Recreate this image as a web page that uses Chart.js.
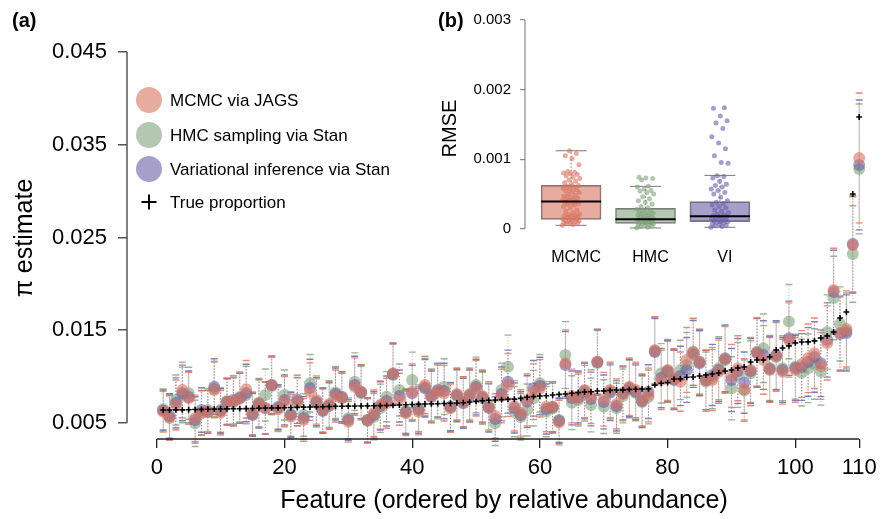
<!DOCTYPE html>
<html><head><meta charset="utf-8">
<script src="https://cdn.jsdelivr.net/npm/chart.js@4/dist/chart.umd.min.js"></script>
<style>
html,body{margin:0;padding:0;background:#fff;}
#wrap{position:relative;width:887px;height:519px;overflow:hidden;}
#main{position:absolute;left:0;top:0;}
#inset{position:absolute;left:420px;top:0;}
</style></head><body>
<div id="wrap">
<canvas id="main" width="887" height="519"></canvas>
<canvas id="inset" width="350" height="265"></canvas>
</div>
<script>
// ---------------- DATA ----------------
const features = Array.from({length: 110}, (_, i) => i + 1);
const methodLabels = ['MCMC via JAGS', 'HMC sampling via Stan', 'Variational inference via Stan'];
const trueLabel = 'True proportion';
const xTickValues = [0, 20, 40, 60, 80, 100, 110];
const yTickValues = [0.005, 0.015, 0.025, 0.035, 0.045];

const trueProp = [
0.00640,0.00640,0.00641,0.00642,0.00643,0.00645,0.00647,0.00649,0.00650,0.00651,
0.00652,0.00653,0.00654,0.00655,0.00657,0.00659,0.00661,0.00662,0.00663,0.00665,
0.00667,0.00669,0.00671,0.00672,0.00674,0.00676,0.00678,0.00680,0.00681,0.00682,
0.00683,0.00684,0.00685,0.00686,0.00687,0.00689,0.00691,0.00694,0.00697,0.00700,
0.00703,0.00705,0.00706,0.00708,0.00711,0.00713,0.00716,0.00719,0.00726,0.00733,
0.00740,0.00745,0.00748,0.00752,0.00755,0.00757,0.00766,0.00777,0.00784,0.00791,
0.00793,0.00802,0.00809,0.00813,0.00820,0.00827,0.00834,0.00837,0.00845,0.00846,
0.00852,0.00856,0.00857,0.00863,0.00864,0.00867,0.00868,0.00910,0.00928,0.00935,
0.00974,0.00976,0.00993,0.00996,0.01007,0.01017,0.01028,0.01039,0.01061,0.01071,
0.01093,0.01104,0.01158,0.01179,0.01180,0.01212,0.01287,0.01309,0.01331,0.01363,
0.01374,0.01375,0.01385,0.01417,0.01438,0.01481,0.01632,0.01697,0.02969,0.03799];

const mcmcEst = [
0.00622,0.00554,0.00694,0.00856,0.00767,0.00551,0.00611,0.00622,0.00856,0.00611,
0.00730,0.00730,0.00767,0.00864,0.00605,0.00713,0.00659,0.00910,0.00648,0.00730,
0.00568,0.00730,0.00533,0.00838,0.00748,0.00640,0.00694,0.00791,0.00767,0.00514,
0.00892,0.00838,0.00533,0.00605,0.00694,0.00713,0.01036,0.00756,0.00605,0.00838,
0.00622,0.00910,0.00791,0.00849,0.00821,0.00659,0.00813,0.00730,0.00802,0.00874,
0.00791,0.00670,0.00576,0.00791,0.00910,0.00684,0.00608,0.00748,0.00838,0.00874,
0.00676,0.00676,0.00504,0.01144,0.00791,0.00767,0.00856,0.00784,0.01161,0.00756,
0.00856,0.00705,0.00813,0.00892,0.00856,0.00748,0.00802,0.01287,0.00964,0.01072,
0.00982,0.00946,0.01180,0.01266,0.01161,0.00964,0.00964,0.01053,0.01187,0.01007,
0.01090,0.00864,0.01072,0.01258,0.01180,0.01072,0.01223,0.01053,0.01395,0.01072,
0.01136,0.01198,0.01252,0.01115,0.01363,0.01934,0.01471,0.01514,0.02419,0.03358];

const hmcEst = [
0.00648,0.00565,0.00748,0.00802,0.00821,0.00497,0.00608,0.00640,0.00867,0.00640,
0.00737,0.00727,0.00781,0.00802,0.00597,0.00719,0.00802,0.00899,0.00662,0.00802,
0.00597,0.00727,0.00587,0.00928,0.00716,0.00640,0.00705,0.00829,0.00770,0.00551,
0.00946,0.00821,0.00522,0.00568,0.00659,0.00784,0.01018,0.00856,0.00630,0.00964,
0.00659,0.00888,0.00802,0.00835,0.00892,0.00676,0.00791,0.00727,0.00813,0.00910,
0.00767,0.00684,0.00497,0.00856,0.01107,0.00622,0.00565,0.00640,0.00767,0.00928,
0.00622,0.00659,0.00533,0.01233,0.00719,0.00748,0.00821,0.00694,0.01147,0.00676,
0.00845,0.00659,0.00791,0.00867,0.00824,0.00727,0.00781,0.01277,0.01036,0.01050,
0.00975,0.01072,0.01126,0.01266,0.01158,0.00946,0.00985,0.01090,0.01180,0.00874,
0.01018,0.00849,0.01036,0.01269,0.01306,0.01093,0.01212,0.01090,0.01593,0.01107,
0.01043,0.01090,0.01136,0.01053,0.01481,0.01848,0.01568,0.01492,0.02322,0.03239];

const viEst = [
0.00635,0.00576,0.00716,0.00824,0.00781,0.00533,0.00640,0.00619,0.00892,0.00630,
0.00727,0.00748,0.00767,0.00824,0.00587,0.00705,0.00662,0.00910,0.00673,0.00748,
0.00587,0.00756,0.00554,0.00878,0.00730,0.00630,0.00684,0.00813,0.00784,0.00533,
0.00910,0.00835,0.00533,0.00587,0.00684,0.00737,0.01029,0.00791,0.00619,0.00821,
0.00640,0.00874,0.00781,0.00856,0.00845,0.00673,0.00802,0.00713,0.00791,0.00888,
0.00781,0.00662,0.00543,0.00813,0.00946,0.00662,0.00587,0.00730,0.00874,0.00899,
0.00651,0.00673,0.00522,0.01126,0.00770,0.00781,0.00845,0.00759,0.01158,0.00727,
0.00827,0.00684,0.00824,0.00878,0.00838,0.00737,0.00838,0.01266,0.00985,0.01061,
0.00964,0.01007,0.01072,0.01244,0.01144,0.00964,0.01018,0.01072,0.01198,0.00964,
0.01061,0.00935,0.01061,0.01255,0.01233,0.01082,0.01233,0.01072,0.01414,0.01093,
0.01104,0.01158,0.01212,0.01144,0.01395,0.01913,0.01460,0.01471,0.02430,0.03282];

// credible-interval half widths
const ciHalf = [
0.0022,0.0024,0.0027,0.0030,0.0028,0.0025,0.0024,0.0023,0.0030,0.0024,
0.0025,0.0026,0.0027,0.0031,0.0023,0.0026,0.0028,0.0031,0.0024,0.0027,
0.0024,0.0026,0.0023,0.0031,0.0026,0.0024,0.0025,0.0028,0.0027,0.0022,
0.0031,0.0029,0.0024,0.0025,0.0026,0.0027,0.0033,0.0028,0.0024,0.0030,
0.0025,0.0031,0.0028,0.0029,0.0030,0.0026,0.0028,0.0027,0.0028,0.0030,
0.0028,0.0026,0.0024,0.0029,0.0034,0.0027,0.0025,0.0028,0.0030,0.0031,
0.0027,0.0027,0.0024,0.0036,0.0029,0.0028,0.0030,0.0029,0.0035,0.0029,
0.0030,0.0027,0.0029,0.0031,0.0030,0.0028,0.0029,0.0036,0.0032,0.0033,
0.0032,0.0032,0.0035,0.0036,0.0035,0.0032,0.0033,0.0034,0.0036,0.0034,
0.0035,0.0033,0.0035,0.0037,0.0037,0.0035,0.0037,0.0035,0.0040,0.0035,
0.0036,0.0037,0.0038,0.0036,0.0040,0.0045,0.0040,0.0041,0.0052,0.0070];

// inset (b): RMSE per feature
const rmseCategories = ['MCMC', 'HMC', 'VI'];
const rmseTicks = [0, 0.001, 0.002, 0.003];
const rmseMCMC = [0.00005,0.00006,0.00007,0.00008,0.00008,0.00009,0.0001,0.0001,0.00011,0.00012,0.00012,0.00013,0.00013,0.00014,0.00015,0.00016,0.00017,0.00018,0.00019,0.0002,0.0002,0.00021,0.00023,0.00025,0.00027,0.0003,0.00032,0.00034,0.00035,0.00036,0.00037,0.00038,0.00039,0.0004,0.00041,0.00042,0.00043,0.00044,0.00045,0.00047,0.00048,0.0005,0.00052,0.00053,0.00055,0.00056,0.00057,0.00058,0.0006,0.00061,0.00062,0.00064,0.00066,0.00068,0.0007,0.00072,0.00074,0.00076,0.00078,0.00079,0.0008,0.00081,0.00082,0.00092,0.00101,0.00105,0.00108,0.00112];
const rmseHMC = [0.00001,0.00002,0.00003,0.00004,0.00005,0.00005,0.00006,0.00007,0.00007,0.00008,0.00008,0.00009,0.0001,0.0001,0.00011,0.00011,0.00012,0.00012,0.00013,0.00013,0.00014,0.00014,0.00015,0.00016,0.00017,0.00018,0.00019,0.0002,0.00021,0.00022,0.00023,0.00024,0.00026,0.00027,0.00028,0.0003,0.00032,0.00035,0.00038,0.0004,0.00043,0.00046,0.0005,0.00052,0.00054,0.00055,0.00057,0.0006,0.00061,0.0007,0.00072,0.00073,0.00074];
const rmseVI = [0.00002,0.00003,0.00004,0.00005,0.00006,0.00007,0.00008,0.00009,0.0001,0.0001,0.00011,0.00012,0.00013,0.00014,0.00015,0.00016,0.00017,0.00018,0.00019,0.0002,0.00021,0.00023,0.00025,0.00027,0.0003,0.00032,0.00034,0.00036,0.00038,0.0004,0.00045,0.0005,0.00052,0.00055,0.00057,0.0006,0.00062,0.00064,0.00068,0.00073,0.00075,0.00076,0.00094,0.00095,0.00105,0.00115,0.00123,0.00132,0.00144,0.00152,0.00155,0.00162,0.00173,0.00174];
const boxQ1  = [0.000134, 0.000077, 0.000100];
const boxMed = [0.000392, 0.000134, 0.000177];
const boxQ3  = [0.000622, 0.000292, 0.000388];
const whiskLo = [0.000048, 0.000010, 0.000020];
const whiskHi = [0.001120, 0.000608, 0.000766];

// ---------------- STYLE ----------------
const FONT = "'Liberation Sans', Arial, Helvetica, sans-serif";
const BASE = {mcmc: [217,115,95], hmc: [130,162,125], vi: [105,95,167]};
const rgba = (c, a) => `rgba(${c[0]},${c[1]},${c[2]},${a})`;
Chart.defaults.font.family = FONT;
Chart.defaults.color = '#000';

const pts = arr => features.map((f, i) => ({x: f, y: arr[i]}));

const methods = [
  {label: methodLabels[0], est: mcmcEst, col: BASE.mcmc},
  {label: methodLabels[1], est: hmcEst, col: BASE.hmc},
  {label: methodLabels[2], est: viEst, col: BASE.vi}
];

// error bars drawn behind points, using the chart scales
const errorBars = {
  id: 'errorBars',
  beforeDatasetsDraw(chart) {
    const {ctx, scales: {x, y}} = chart;
    ctx.save();
    [methods[1], methods[2], methods[0]].forEach(m => {
      features.forEach((f, i) => {
        const px = x.getPixelForValue(f);
        const lo = y.getPixelForValue(m.est[i] - ciHalf[i]);
        const hi = y.getPixelForValue(m.est[i] + ciHalf[i]);
        ctx.strokeStyle = rgba(m.col, 0.7);
        ctx.lineWidth = 1;
        ctx.setLineDash([1, 2]);
        ctx.beginPath(); ctx.moveTo(px, lo); ctx.lineTo(px, hi); ctx.stroke();
        ctx.setLineDash([]);
        ctx.lineWidth = 1.4;
        ctx.strokeStyle = rgba(m.col, 0.8);
        ctx.beginPath();
        ctx.moveTo(px - 3.5, lo); ctx.lineTo(px + 3.5, lo);
        ctx.moveTo(px - 3.5, hi); ctx.lineTo(px + 3.5, hi);
        ctx.stroke();
      });
    });
    ctx.restore();
  }
};

const mainDecor = {
  id: 'mainDecor',
  afterDraw(chart) {
    const {ctx, scales: {x, y}, chartArea} = chart;
    ctx.save();
    // R-style axis lines spanning first to last tick
    ctx.strokeStyle = '#555'; ctx.lineWidth = 1.5;
    ctx.beginPath();
    ctx.moveTo(chartArea.left, y.getPixelForValue(yTickValues[0]));
    ctx.lineTo(chartArea.left, y.getPixelForValue(yTickValues[yTickValues.length - 1]));
    ctx.stroke();
    ctx.strokeStyle = '#222'; ctx.lineWidth = 1.3;
    ctx.beginPath();
    ctx.moveTo(x.getPixelForValue(xTickValues[0]), chartArea.bottom);
    ctx.lineTo(x.getPixelForValue(xTickValues[xTickValues.length - 1]), chartArea.bottom);
    ctx.stroke();
    // legend
    const lx = 149, ly = [100, 135, 169, 202];
    ctx.font = `17px ${FONT}`; ctx.textBaseline = 'middle'; ctx.textAlign = 'left'; ctx.fillStyle = '#000';
    methods.forEach((m, k) => {
      ctx.fillStyle = rgba(m.col, 0.6);
      ctx.beginPath(); ctx.arc(lx, ly[k], 13, 0, Math.PI * 2); ctx.fill();
      ctx.fillStyle = '#000';
      ctx.fillText(m.label, 170, ly[k] + 1);
    });
    ctx.strokeStyle = '#000'; ctx.lineWidth = 2;
    ctx.beginPath();
    ctx.moveTo(lx - 7.5, ly[3]); ctx.lineTo(lx + 7.5, ly[3]);
    ctx.moveTo(lx, ly[3] - 7.5); ctx.lineTo(lx, ly[3] + 7.5);
    ctx.stroke();
    ctx.fillText(trueLabel, 170, ly[3] + 1);
    // panel labels
    ctx.font = `bold 20px ${FONT}`;
    ctx.fillText('(a)', 12, 21);
    ctx.fillText('(b)', 438, 21);
    ctx.restore();
  }
};

new Chart(document.getElementById('main'), {
  type: 'scatter',
  data: {
    datasets: [
      {label: trueLabel, data: pts(trueProp), pointStyle: 'cross', pointRadius: 2.9,
       borderColor: '#000', backgroundColor: '#000', borderWidth: 1.6},
      {label: methodLabels[0], data: pts(mcmcEst), pointRadius: 6, borderWidth: 0,
       backgroundColor: rgba(BASE.mcmc, 0.6)},
      {label: methodLabels[2], data: pts(viEst), pointRadius: 6, borderWidth: 0,
       backgroundColor: rgba(BASE.vi, 0.6)},
      {label: methodLabels[1], data: pts(hmcEst), pointRadius: 6, borderWidth: 0,
       backgroundColor: rgba(BASE.hmc, 0.6)}
    ]
  },
  options: {
    responsive: false, animation: false, devicePixelRatio: 1,
    clip: false,
    layout: {padding: {top: 37, left: 0, right: 0, bottom: 0}},
    plugins: {legend: {display: false}, tooltip: {enabled: false}},
    scales: {
      x: {
        type: 'linear', min: -4.661, max: 113.418,
        afterBuildTicks: s => { s.ticks = xTickValues.map(v => ({value: v})); },
        afterFit: s => { s.height = 80; s.paddingLeft = 0; s.paddingRight = 0; },
        grid: {drawOnChartArea: false, drawTicks: true, tickLength: 9, color: '#222', lineWidth: 1.3},
        border: {display: false},
        ticks: {font: {size: 22}, padding: 7, maxRotation: 0, autoSkip: false, callback: v => String(v)},
        title: {display: true, text: 'Feature (ordered by relative abundance)', font: {size: 25}, padding: {top: 0, bottom: 3}}
      },
      y: {
        type: 'linear', min: 0.003275, max: 0.046617,
        afterBuildTicks: s => { s.ticks = yTickValues.map(v => ({value: v})); },
        afterFit: s => { s.width = 127; },
        grid: {drawOnChartArea: false, drawTicks: true, tickLength: 9, color: '#555', lineWidth: 1.5},
        border: {display: false},
        ticks: {font: {size: 22}, padding: 11, autoSkip: false, callback: v => v.toFixed(3)},
        title: {display: true, text: 'π estimate', font: {size: 25}, padding: {top: 10, bottom: 0}}
      }
    }
  },
  plugins: [errorBars, mainDecor]
});

// ---------------- INSET (b) ----------------
const insetCols = [BASE.mcmc, BASE.hmc, BASE.vi];
const rmseSets = [rmseMCMC, rmseHMC, rmseVI];
const jitter = k => (((k * 0.6180339) % 1) - 0.5) * 0.24;
const insetPoints = [];
const insetPointColors = [];
rmseSets.forEach((arr, c) => arr.forEach((v, k) => {
  insetPoints.push({x: c + 1 + jitter(k), y: v});
  insetPointColors.push(rgba(insetCols[c], 0.6));
}));

const boxDecor = {
  id: 'boxDecor',
  afterDatasetDraw(chart, args) {
    if (args.meta.type !== 'bar') return;
    const {ctx, scales: {x, y}} = chart;
    ctx.save();
    rmseCategories.forEach((c, k) => {
      const px = x.getPixelForValue(k + 1);
      ctx.strokeStyle = '#7a7a7a'; ctx.lineWidth = 1;
      ctx.setLineDash([1.5, 2]);
      ctx.beginPath();
      ctx.moveTo(px, y.getPixelForValue(boxQ3[k])); ctx.lineTo(px, y.getPixelForValue(whiskHi[k]));
      ctx.moveTo(px, y.getPixelForValue(boxQ1[k])); ctx.lineTo(px, y.getPixelForValue(whiskLo[k]));
      ctx.stroke();
      ctx.setLineDash([]);
      ctx.beginPath();
      ctx.moveTo(px - 15.5, y.getPixelForValue(whiskHi[k])); ctx.lineTo(px + 15.5, y.getPixelForValue(whiskHi[k]));
      ctx.moveTo(px - 15.5, y.getPixelForValue(whiskLo[k])); ctx.lineTo(px + 15.5, y.getPixelForValue(whiskLo[k]));
      ctx.stroke();
    });
    ctx.restore();
  },
  afterDatasetsDraw(chart) {
    const {ctx, scales: {x, y}, chartArea} = chart;
    ctx.save();
    ctx.strokeStyle = '#000'; ctx.lineWidth = 2;
    rmseCategories.forEach((c, k) => {
      const px = x.getPixelForValue(k + 1);
      const py = y.getPixelForValue(boxMed[k]);
      ctx.beginPath(); ctx.moveTo(px - 30, py); ctx.lineTo(px + 30, py); ctx.stroke();
    });
    ctx.strokeStyle = '#888'; ctx.lineWidth = 1.2;
    ctx.beginPath();
    ctx.moveTo(chartArea.left, y.getPixelForValue(rmseTicks[0]));
    ctx.lineTo(chartArea.left, y.getPixelForValue(rmseTicks[rmseTicks.length - 1]));
    ctx.stroke();
    ctx.restore();
  }
};

new Chart(document.getElementById('inset'), {
  data: {
    datasets: [
      {type: 'bar', order: 2, label: 'box',
       data: rmseCategories.map((c, k) => ({x: k + 1, y: [boxQ1[k], boxQ3[k]]})),
       backgroundColor: insetCols.map(c => rgba(c, 0.6)),
       borderColor: '#7a7a7a', borderWidth: 1, borderSkipped: false, barThickness: 60},
      {type: 'scatter', order: 1, label: 'RMSE', data: insetPoints,
       pointRadius: 2.5, borderWidth: 0, backgroundColor: insetPointColors}
    ]
  },
  options: {
    responsive: false, animation: false, devicePixelRatio: 1,
    layout: {padding: {top: 20, right: 4, left: 0, bottom: 0}},
    plugins: {legend: {display: false}, tooltip: {enabled: false}},
    scales: {
      x: {
        type: 'linear', min: 0.38, max: 3.62, offset: false,
        afterBuildTicks: s => { s.ticks = rmseCategories.map((c, k) => ({value: k + 1})); },
        afterFit: s => { s.height = 28; s.paddingLeft = 0; s.paddingRight = 0; },
        grid: {display: false}, border: {display: false},
        ticks: {font: {size: 16}, padding: 3, labelOffset: 5, autoSkip: false, maxRotation: 0,
                callback: v => rmseCategories[Math.round(v) - 1]}
      },
      y: {
        type: 'linear', min: -0.00012, max: 0.003,
        afterBuildTicks: s => { s.ticks = rmseTicks.map(v => ({value: v})); },
        afterFit: s => { s.width = 105; },
        grid: {drawOnChartArea: false, drawTicks: true, tickLength: 5, color: '#888', lineWidth: 1.2},
        border: {display: false},
        ticks: {font: {size: 15}, padding: 9, autoSkip: false, callback: v => v === 0 ? '0' : v.toFixed(3)},
        title: {display: true, text: 'RMSE', font: {size: 20}, padding: {top: 18, bottom: 0}}
      }
    }
  },
  plugins: [boxDecor]
});
</script>
</body></html>
